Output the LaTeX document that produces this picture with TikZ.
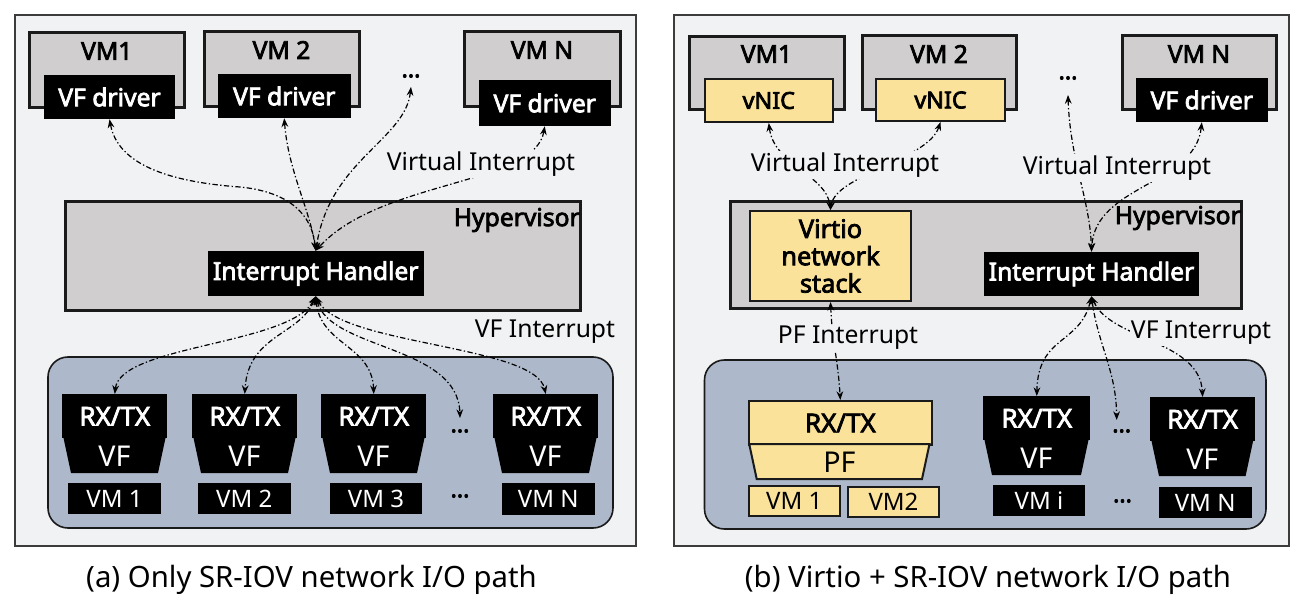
\documentclass[tikz,border=0pt]{standalone}
\usepackage{fontspec}
\setmainfont{Noto Sans}[AutoFakeBold=3]
\usetikzlibrary{arrows.meta}
\definecolor{panelbg}{RGB}{241,242,244}
\definecolor{vmgray}{RGB}{208,206,206}
\definecolor{nicblue}{RGB}{173,185,202}
\definecolor{vyellow}{RGB}{250,226,154}
\definecolor{edgec}{RGB}{26,26,26}
\newcommand{\mybox}[7][]{\node[#1, minimum width={(#5-#3)*0.75pt}, minimum height={(#6-#4)*0.75pt}, inner sep=0pt] (#2) at ({(#3+#5)/2},{(#4+#6)/2}) {#7};}
\newcommand{\rxunit}[6]{%
  \node[#5, anchor=north west, minimum width={#4*0.75pt}, minimum height={44*0.75pt}, inner sep=0pt, font=\fontsize{19.5}{22}\selectfont\bfseries] (#1) at (#2,#3) {RX/TX};
  \path[#5] ({#2+1.5},{#3+44}) -- ({#2+#4-1.5},{#3+44}) -- ({#2+#4-9},{#3+79}) -- ({#2+9},{#3+79}) -- cycle;
  \node[#5, fill=none, draw=none, font=\fontsize{21.5}{24}\selectfont] at ({#2+#4/2},{#3+62}) {#6};}
\tikzset{
  panelframe/.style={draw=edgec!85, line width=1.5pt, fill=panelbg},
  vmbox/.style={draw=edgec, line width=2.25pt, fill=vmgray, rectangle},
  hyperbox/.style={draw=edgec, line width=2.25pt, fill=vmgray, rectangle},
  blkbox/.style={fill=black, text=white, rectangle},
  ylwbox/.style={draw=edgec, line width=1.5pt, fill=vyellow, text=black, rectangle},
  nicbox/.style={draw=edgec, line width=1.2pt, fill=nicblue, rounded corners=15pt},
  blkshape/.style={fill=black, text=white},
  ylwshape/.style={fill=vyellow, draw=edgec, line width=1.5pt, text=black},
  bfnt/.style={font=\fontsize{18.5}{21}\selectfont\bfseries},
  nicfnt/.style={font=\fontsize{17.5}{20}\selectfont\bfseries},
  vmfnt/.style={font=\fontsize{18}{21}\selectfont},
  title/.style={font=\fontsize{18.5}{21}\selectfont\bfseries, inner sep=0pt},
  lbl/.style={font=\fontsize{18.5}{22}\selectfont, fill=panelbg, inner sep=1pt},
  dotsn/.style={font=\fontsize{18}{20}\selectfont\bfseries, inner sep=0pt},
  capt/.style={font=\fontsize{22}{26}\selectfont, inner sep=0pt},
  irq/.style={draw=black, line width=0.9pt, dash pattern=on 4pt off 1.8pt on 1pt off 1.8pt,
    {Stealth[length=6.5pt,width=5pt]}-{Stealth[length=6.5pt,width=5pt]}}
}
\begin{document}
\begin{tikzpicture}[x=0.75pt,y=-0.75pt]
\useasboundingbox[fill=white] (0,0) rectangle (1302,616);
% ---------------- panel (a)
\path[panelframe] (15,15) rectangle (636,546);
\path[nicbox] (48,357) rectangle (613,528);
\mybox[vmbox]{vma1}{29}{33}{184.5}{108}{}
\node[title] (ta1) at (106.75,51) {VM1};
\mybox[blkbox,bfnt]{vfa1}{44}{75}{175}{119}{VF driver}
\mybox[vmbox]{vma2}{204}{32}{359}{107}{}
\node[title] (ta2) at (281.5,50) {VM 2};
\mybox[blkbox,bfnt]{vfa2}{218}{74}{350.5}{118}{VF driver}
\node[dotsn] (dota) at (411,76) {…};
\coordinate (dat) at (411,87);
\mybox[vmbox]{vmaN}{464.5}{32}{620}{107}{}
\node[title] (taN) at (542,50) {VM N};
\mybox[blkbox,bfnt]{vfaN}{479}{80}{610.5}{126}{VF driver}
\mybox[hyperbox]{hva}{65}{202}{580}{311}{}
\node[bfnt, anchor=east, inner sep=0pt] (hvta) at (580,220) {Hypervisor};
\mybox[blkbox,bfnt]{iha}{208}{251}{423.5}{296}{Interrupt Handler}
\rxunit{rxa1}{62}{394}{105}{blkshape}{VF}
\rxunit{rxa2}{192}{394}{105}{blkshape}{VF}
\rxunit{rxa3}{321}{394}{105}{blkshape}{VF}
\rxunit{rxa4}{493}{394}{105}{blkshape}{VF}
\node[dotsn] (dam1) at (460,431) {…};
\coordinate (dam) at (460,418);
\mybox[blkbox,vmfnt]{vmla1}{68}{483}{161}{514}{VM 1}
\mybox[blkbox,vmfnt]{vmla2}{198}{483}{290.5}{514}{VM 2}
\mybox[blkbox,vmfnt]{vmla3}{330}{483}{422}{514}{VM 3}
\node[dotsn] (dab) at (460,496) {…};
\mybox[blkbox,vmfnt]{vmlaN}{502}{483}{594.5}{515}{VM N}
% connectors (a)
\draw[irq] (vfa1.south) .. controls (118,165) and (170,182) .. (240,187) .. controls (290,192) and (312,215) .. (iha.north);
\draw[irq] (vfa2.south) .. controls (288,170) and (310,210) .. (iha.north);
\draw[irq] (dat) .. controls (405,140) and (330,160) .. (iha.north);
\draw[irq] (vfaN.south) .. controls (535,185) and (380,180) .. (iha.north);
\draw[irq] (iha.south) .. controls (290,345) and (120,345) .. (rxa1.north);
\draw[irq] (iha.south) .. controls (300,335) and (248,335) .. (rxa2.north);
\draw[irq] (iha.south) .. controls (320,345) and (372,345) .. (rxa3.north);
\draw[irq] (iha.south) .. controls (330,350) and (458,345) .. (dam);
\draw[irq] (iha.south) .. controls (340,345) and (535,345) .. (rxa4.north);
\node[lbl] (via) at (481,164) {Virtual Interrupt};
\node[lbl, fill=none] (vfia) at (545,332) {VF Interrupt};
\node[capt] (capa) at (311.5,580) {(a) Only SR-IOV network I/O path};
% ---------------- panel (b)
\path[panelframe] (674,15) rectangle (1289,546);
\path[nicbox] (704.5,360) rectangle (1266,529);
\mybox[vmbox]{vmb1}{689}{37}{844}{110}{}
\node[title] (tb1) at (766.5,54) {VM1};
\mybox[ylwbox,nicfnt]{vn1}{704.5}{79}{833}{122}{vNIC}
\mybox[vmbox]{vmb2}{862.5}{36}{1016}{110}{}
\node[title] (tb2) at (939,54) {VM 2};
\mybox[ylwbox,nicfnt]{vn2}{876}{79}{1005}{121}{vNIC}
\node[dotsn] (dotb) at (1068,78) {…};
\coordinate (dbt) at (1068,95);
\mybox[vmbox]{vmbN}{1122.5}{36}{1276}{110}{}
\node[title] (tbN) at (1199,54) {VM N};
\mybox[blkbox,bfnt]{vfbN}{1136}{78}{1267.6}{122}{VF driver}
\mybox[hyperbox]{hvb}{730}{202}{1241}{309}{}
\node[bfnt, anchor=east, inner sep=0pt] (hvtb) at (1241,218) {Hypervisor};
\mybox[ylwbox,font=\fontsize{19}{20.5}\selectfont\bfseries, align=center]{virtio}{750}{211}{911}{301}{Virtio\\network\\stack}
\mybox[blkbox,bfnt]{ihb}{984}{252}{1199}{296}{Interrupt Handler}
\rxunit{rxb1}{747.7}{400}{183.3}{ylwshape}{PF}
\rxunit{rxb2}{983}{396}{107}{blkshape}{VF}
\rxunit{rxb3}{1150}{397}{104.6}{blkshape}{VF}
\node[dotsn] (dbm1) at (1121.7,431) {…};
\coordinate (dbm) at (1116.7,420);
\mybox[ylwbox,vmfnt]{vmlb1}{748.5}{486}{840}{516}{VM 1}
\mybox[ylwbox,vmfnt]{vmlb2}{848}{487}{939}{517}{VM2}
\mybox[blkbox,vmfnt]{vmlbi}{993}{485}{1085}{516}{VM i}
\node[dotsn] (dbb) at (1122.5,501) {…};
\mybox[blkbox,vmfnt]{vmlbN}{1158.6}{487}{1251.7}{518}{VM N}
% connectors (b)
\draw[irq] (vn1.south) .. controls (774,165) and (826,175) .. (virtio.north);
\draw[irq] (vn2.south) .. controls (928,160) and (836,175) .. (virtio.north);
\draw[irq] (dbt) .. controls (1070,160) and (1090,200) .. (ihb.north);
\draw[irq] (vfbN.south) .. controls (1195,185) and (1095,185) .. (ihb.north);
\draw[irq] (virtio.south) .. controls (832,340) and (838,360) .. (rxb1.north);
\draw[irq] (ihb.south) .. controls (1080,345) and (1038,335) .. (rxb2.north);
\draw[irq] (ihb.south) .. controls (1098,345) and (1116,370) .. (dbm);
\draw[irq] (ihb.south) .. controls (1110,340) and (1200,340) .. (rxb3.north);
\node[lbl] (vibl) at (845,165) {Virtual Interrupt};
\node[lbl] (vibr) at (1117,168) {Virtual Interrupt};
\node[lbl] (pfib) at (848,338) {PF Interrupt};
\node[lbl] (vfib) at (1201,333) {VF Interrupt};
\node[capt] (capb) at (988,580) {(b) Virtio + SR-IOV network I/O path};
\end{tikzpicture}
\end{document}
